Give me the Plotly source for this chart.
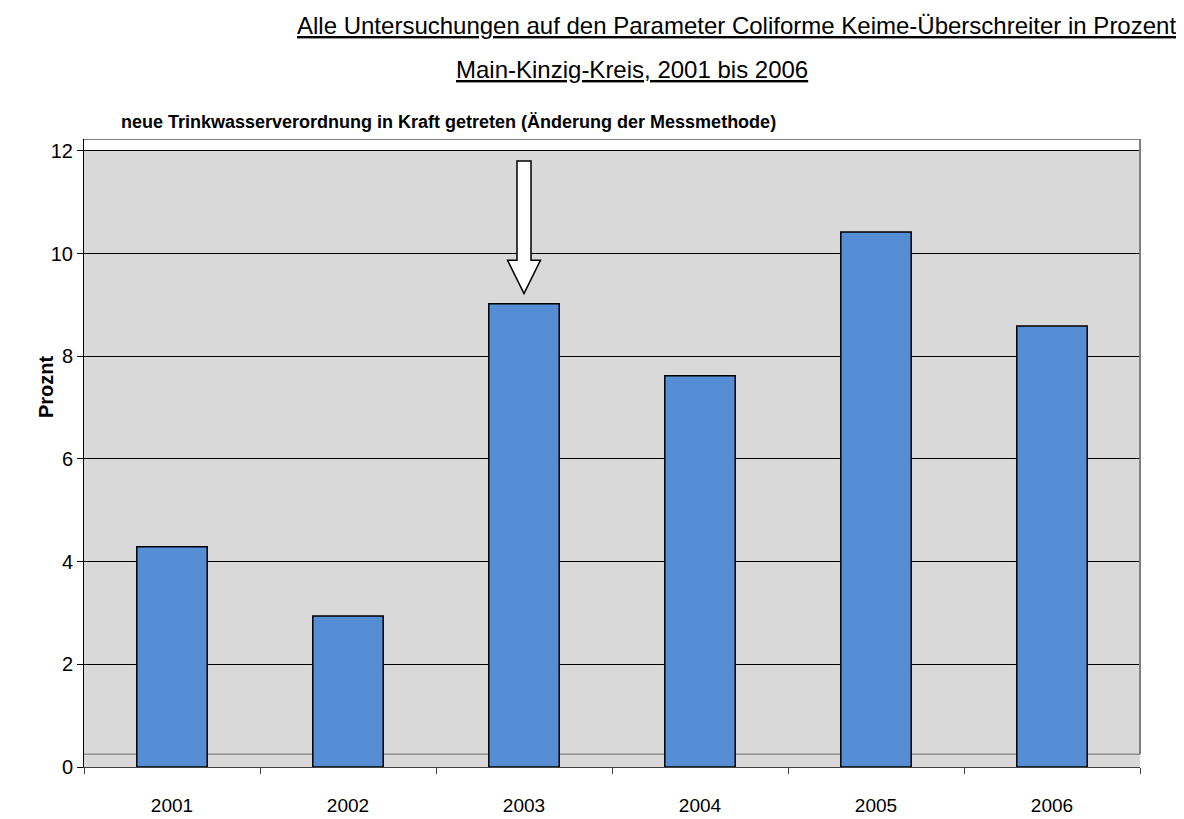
import plotly.graph_objects as go

years = ["2001", "2002", "2003", "2004", "2005", "2006"]
percent = [4.29, 2.94, 9.02, 7.62, 10.42, 8.59]
y_ticks = [0, 2, 4, 6, 8, 10, 12]

title1 = "Alle Untersuchungen auf den Parameter Coliforme Keime-Überschreiter in Prozent"
title2 = "Main-Kinzig-Kreis, 2001 bis 2006"
subtitle = "neue Trinkwasserverordnung in Kraft getreten (Änderung der Messmethode)"
ytitle = "Proznt"

# The page body has an 8px margin; the figure is shifted by it.
OFF = 8
FW, FH = 1184 - OFF, 819 - OFF
L, T, W, H = 84, 139, 1056, 628   # plot area in screen pixels

fig = go.Figure()
fig.add_trace(go.Bar(
    x=years, y=percent,
    marker=dict(color="#558ed5", line=dict(color="#000000", width=1.5)),
    width=0.4,
))

ymax = 12.23
fig.update_layout(
    width=FW, height=FH,
    margin=dict(l=L - OFF, r=FW - (L - OFF) - W, t=T - OFF, b=FH - (T - OFF) - H, pad=0),
    paper_bgcolor="white",
    plot_bgcolor="#d9d9d9",
    showlegend=False,
    font=dict(family="Liberation Sans, Arial, sans-serif", color="#000000"),
    xaxis=dict(
        type="category",
        automargin=False,
        showgrid=False,
        showline=True, linecolor="#404040", linewidth=1,
        ticks="outside", ticklen=6, tickcolor="#404040",
        tickson="boundaries",
        tickfont=dict(size=19),
        ticklabelstandoff=21,
        range=[-0.5, 5.5],
    ),
    yaxis=dict(
        automargin=False,
        range=[0, ymax],
        tickvals=y_ticks,
        showgrid=True, gridcolor="#000000", gridwidth=1,
        zeroline=False,
        showline=True, linecolor="#000000", linewidth=1,
        ticks="outside", ticklen=6, tickcolor="#000000",
        tickfont=dict(size=20),
    ),
)

shapes = [
    dict(type="rect", xref="paper", yref="y", x0=0, x1=1, y0=12, y1=ymax,
         fillcolor="white", line=dict(width=0), layer="below"),
    dict(type="line", xref="paper", yref="y", x0=0, x1=1, y0=0.25, y1=0.25,
         line=dict(color="#909090", width=1.5), layer="below"),
    dict(type="line", xref="paper", yref="y", x0=0, x1=1, y0=ymax, y1=ymax,
         line=dict(color="#808080", width=2)),
    dict(type="line", xref="paper", yref="y", x0=1, x1=1, y0=0.25, y1=ymax,
         line=dict(color="#808080", width=2)),
]

# hollow arrow above 2003
cx = 2.5 / 6
sw = 7.0 / W
hw = 16.5 / W
y_top, y_base, y_tip = 11.8, 9.87, 9.22
path = (f"M {cx - sw},{y_top} L {cx + sw},{y_top} L {cx + sw},{y_base} "
        f"L {cx + hw},{y_base} L {cx},{y_tip} L {cx - hw},{y_base} "
        f"L {cx - sw},{y_base} Z")
shapes.append(dict(type="path", xref="paper", yref="y", path=path,
                   fillcolor="white", line=dict(color="#000000", width=1.5)))
fig.update_layout(shapes=shapes)

def px(xs):
    return (xs - L) / W

def py(ys):
    return (T + H - ys) / H

fig.add_annotation(text=f"<u>{title1}</u>", xref="paper", yref="paper",
                   x=px(736), y=py(26), showarrow=False,
                   font=dict(size=24), xanchor="center", yanchor="middle")
fig.add_annotation(text=f"<u>{title2}</u>", xref="paper", yref="paper",
                   x=px(632), y=py(70), showarrow=False,
                   font=dict(size=24), xanchor="center", yanchor="middle")
fig.add_annotation(text=f"<b>{subtitle}</b>", xref="paper", yref="paper",
                   x=px(119), y=py(122), showarrow=False,
                   font=dict(size=18), xanchor="left", yanchor="middle")
fig.add_annotation(text=f"<b>{ytitle}</b>", xref="paper", yref="paper",
                   x=px(46), y=py(387), showarrow=False,
                   textangle=-90, font=dict(size=20), xanchor="center", yanchor="middle")

fig.write_html("out.html")
